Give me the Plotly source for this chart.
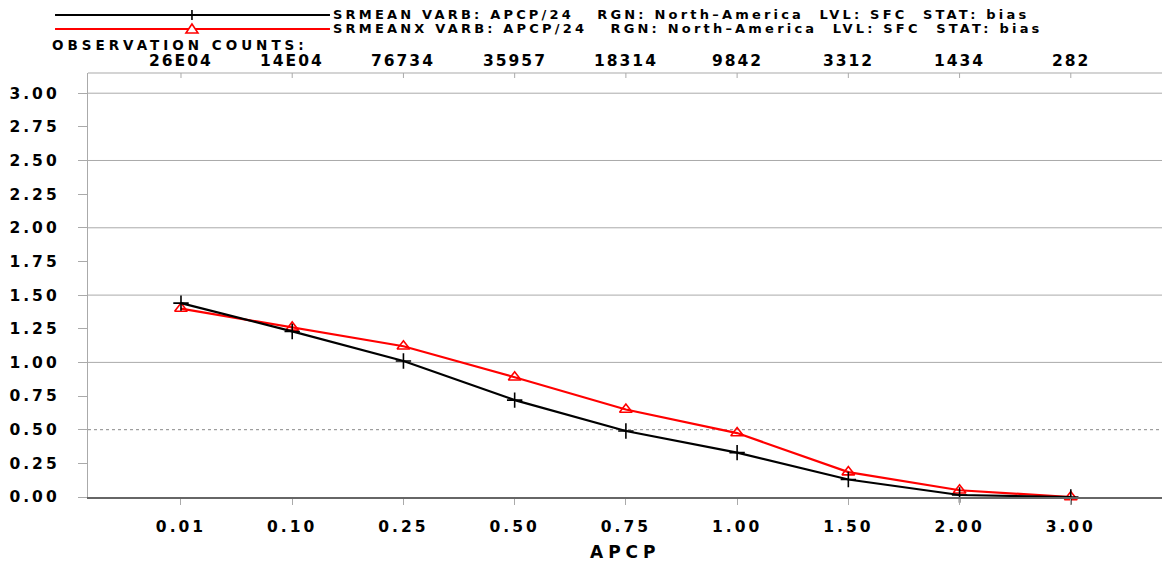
import plotly.graph_objects as go

categories = ["0.01", "0.10", "0.25", "0.50", "0.75", "1.00", "1.50", "2.00", "3.00"]
obs_counts = ["26E04", "14E04", "76734", "35957", "18314", "9842", "3312", "1434", "282"]
srmean = [1.44, 1.23, 1.01, 0.72, 0.49, 0.33, 0.13, 0.015, 0.0]
srmeanx = [1.40, 1.26, 1.12, 0.89, 0.65, 0.475, 0.185, 0.05, 0.0]
y_ticks = [0.0, 0.25, 0.5, 0.75, 1.0, 1.25, 1.5, 1.75, 2.0, 2.25, 2.5, 2.75, 3.0]
grid_vals = [0.5, 1.0, 1.5, 2.0, 2.5, 3.0]
legend_names = [
    "SRMEAN VARB: APCP/24   RGN: North\u2013America  LVL: SFC  STAT: bias",
    "SRMEANX VARB: APCP/24   RGN: North\u2013America  LVL: SFC  STAT: bias",
]

FONT = "DejaVu Sans"
idx = list(range(len(categories)))


def spaced(txt, px):
    return f'<span style="letter-spacing:{px}px">{txt}</span>'


fig = go.Figure()
fig.add_trace(go.Scatter(
    x=idx, y=srmeanx, mode="lines+markers", name=legend_names[1],
    line=dict(color="#ff0000", width=2.2),
    marker=dict(symbol="triangle-up-open", size=11, color="#ff0000", line=dict(width=1.6, color="#ff0000")),
    cliponaxis=False, hoverinfo="skip",
))
fig.add_trace(go.Scatter(
    x=idx, y=srmean, mode="lines+markers", name=legend_names[0],
    line=dict(color="#000000", width=2.2),
    marker=dict(symbol="cross-thin", size=11, color="#000000", line=dict(width=1.6, color="#000000")),
    cliponaxis=False, hoverinfo="skip",
))

shapes = []
# gridlines
for g in grid_vals:
    shapes.append(dict(type="line", xref="paper", yref="y", x0=0, x1=1, y0=g, y1=g,
                       line=dict(color="#aaaaaa" if g != 0.5 else "#888888", width=1,
                                 dash="solid" if g != 0.5 else "dot"), layer="below"))
# top border
shapes.append(dict(type="line", xref="paper", yref="paper", x0=0, x1=1, y0=1, y1=1,
                   line=dict(color="#aaaaaa", width=1.2)))
# top inward ticks
for i in idx:
    shapes.append(dict(type="line", xref="x", yref="paper", x0=i, x1=i, y0=1, y1=1 - 5 / 424,
                       line=dict(color="#aaaaaa", width=1)))

# legend
leg_y = [1.1368, 1.1038]
leg_col = ["#000000", "#ff0000"]
for k in range(2):
    shapes.append(dict(type="line", xref="paper", yref="paper", x0=-0.0307, x1=0.2253,
                       y0=leg_y[k], y1=leg_y[k], line=dict(color=leg_col[k], width=2.2)))
# legend markers
shapes.append(dict(type="line", xref="paper", yref="paper", xsizemode="pixel", ysizemode="pixel",
                   xanchor=0.0968, yanchor=leg_y[0], x0=0, x1=0, y0=-5, y1=5,
                   line=dict(color="#000000", width=1.6)))
shapes.append(dict(type="line", xref="paper", yref="paper", xsizemode="pixel", ysizemode="pixel",
                   xanchor=0.0968, yanchor=leg_y[0], x0=-5, x1=5, y0=0, y1=0,
                   line=dict(color="#000000", width=1.6)))
shapes.append(dict(type="path", xref="paper", yref="paper", xsizemode="pixel", ysizemode="pixel",
                   xanchor=0.0968, yanchor=leg_y[1], path="M -6,-4 L 6,-4 L 0,5 Z",
                   fillcolor="white", line=dict(color="#ff0000", width=1.6)))

annotations = []
for k in range(2):
    annotations.append(dict(xref="paper", yref="paper", x=0.2265, y=leg_y[k], xanchor="left",
                            yanchor="middle", text=spaced(legend_names[k], 3.2), showarrow=False,
                            font=dict(family=FONT, size=13, color="black", weight="bold")))
annotations.append(dict(xref="paper", yref="paper", x=-0.0354, y=1.0662, xanchor="left",
                        yanchor="middle", text=spaced("OBSERVATION COUNTS:", 4), showarrow=False,
                        font=dict(family=FONT, size=13.5, color="black", weight="bold")))
for i, c in zip(idx, obs_counts):
    annotations.append(dict(xref="x", yref="paper", x=i, y=1.0283, xanchor="center",
                            yanchor="middle", text=spaced(c, 2), showarrow=False,
                            font=dict(family=FONT, size=15.5, color="black", weight="bold")))
annotations.append(dict(xref="paper", yref="paper", x=0.5, y=(497 - 552) / 424, xanchor="center",
                        yanchor="middle", text=spaced("APCP", 5), showarrow=False,
                        font=dict(family=FONT, size=17, color="black", weight="bold")))

fig.update_layout(
    width=1162, height=564,
    margin=dict(l=88, r=0, t=73, b=67, autoexpand=False),
    paper_bgcolor="white", plot_bgcolor="white",
    showlegend=False, hovermode=False,
    shapes=shapes, annotations=annotations,
    xaxis=dict(
        range=[-0.836, 8.82], tickvals=idx, ticktext=[spaced(c, 3) for c in categories],
        showgrid=False, zeroline=False, automargin=False,
        showline=True, linecolor="#666666", linewidth=2,
        ticks="outside", ticklen=6, tickcolor="#aaaaaa", tickwidth=1,
        ticklabelstandoff=8,
        tickfont=dict(family=FONT, size=15.5, color="black", weight="bold"),
    ),
    yaxis=dict(
        range=[0, 3.15], tickvals=y_ticks, ticktext=[spaced(f"{v:.2f}", 3) for v in y_ticks],
        showgrid=False, zeroline=False, automargin=False,
        showline=True, linecolor="#aaaaaa", linewidth=1.2,
        ticks="outside", ticklen=9, tickcolor="#aaaaaa", tickwidth=1,
        ticklabelstandoff=15,
        tickfont=dict(family=FONT, size=15.5, color="black", weight="bold"),
    ),
)

fig.write_html(
    "out.html",
    config={"displayModeBar": False, "staticPlot": True},
    post_script="document.body.style.margin='0px';document.body.style.overflow='hidden';",
)
